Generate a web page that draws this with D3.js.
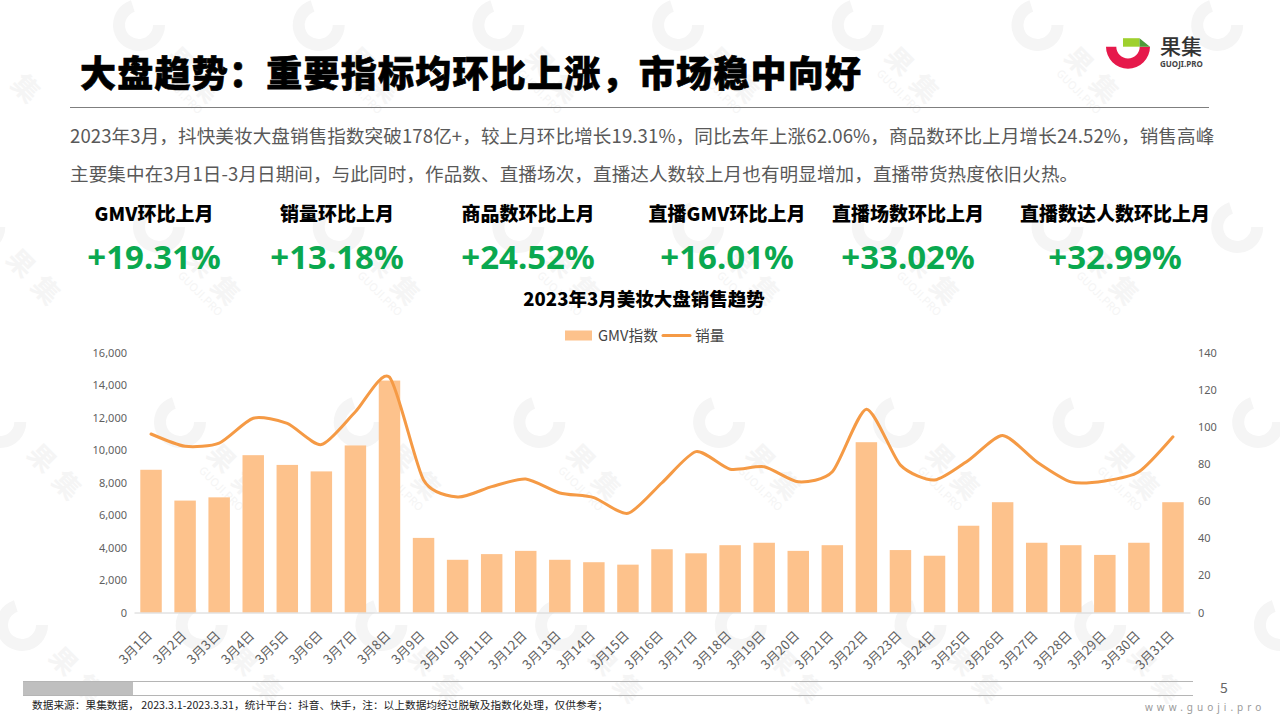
<!DOCTYPE html>
<html><head><meta charset="utf-8">
<script src="https://cdn.jsdelivr.net/npm/d3@7"></script>
<style>html,body{margin:0;padding:0;background:#fff;overflow:hidden}svg{display:block}text{font-family:"Noto Sans CJK SC","Noto Sans",sans-serif}</style>
</head><body><svg id="c" width="1280" height="720"></svg>
<script>
const days = d3.range(1,32).map(d=>`3月${d}日`);
const gmv = [8800,6900,7100,9700,9100,8700,10300,14300,4600,3250,3600,3800,3250,3100,2950,3900,3650,4150,4300,3800,4150,10500,3850,3500,5350,6800,4300,4150,3550,4300,6800];
const sales = [96.3,89.7,91.4,104.8,102,90.6,108.3,127,71.5,62.3,67.9,72,64.5,62,53.5,70,86.8,77.3,78.6,70.5,75.9,109.7,79.5,71.5,82.2,95.5,81.3,70.5,71,75.9,94.8];
const leftTicks = [0,2000,4000,6000,8000,10000,12000,14000,16000];
const rightTicks = [0,20,40,60,80,100,120,140];
const metricLabels = ["GMV环比上月","销量环比上月","商品数环比上月","直播GMV环比上月","直播场数环比上月","直播数达人数环比上月"];
const metricValues = ["+19.31%","+13.18%","+24.52%","+16.01%","+33.02%","+32.99%"];
const metricCenters = [154,337,528,727,908,1115];
const titleText = "大盘趋势：重要指标均环比上涨，市场稳中向好";
const bodyLines = ["2023年3月，抖快美妆大盘销售指数突破178亿+，较上月环比增长19.31%，同比去年上涨62.06%，商品数环比上月增长24.52%，销售高峰","主要集中在3月1日-3月日期间，与此同时，作品数、直播场次，直播达人数较上月也有明显增加，直播带货热度依旧火热。"];
const chartTitle = "2023年3月美妆大盘销售趋势";
const sourceText = "数据来源：果集数据， 2023.3.1-2023.3.31，统计平台：抖音、快手，注：以上数据均经过脱敏及指数化处理，仅供参考；";
const barColor = "#fdc28c", lineColor = "#f59a45", tickColor = "#5f5f5f";

const svg = d3.select("#c");

// watermark tiles
const wm = svg.append("g").attr("class","watermark");
const wmColor = "#f5f5f5";
const rows = [[-20.7,25],[-0.7,227],[20.3,422],[42,625]];
const inside = (x,y)=>x>18&&x<1245&&y>18&&y<702;
rows.forEach(([x0,y])=>{
  d3.range(0,9).forEach(i=>{
    const gx = x0 + i*179.7 - 20;
    const t = wm.append("g").attr("transform",`translate(${gx},${y})`);
    t.append("path").attr("d",d3.arc().innerRadius(14).outerRadius(26).startAngle(Math.PI*0.5).endAngle(Math.PI*1.9)())
      .attr("fill",wmColor);
    [["果",43,35],["集",68,62]].forEach(([s,dx,dy])=>{ if(!inside(gx+dx,y+dy)) return;
      t.append("text").text(s)
      .attr("transform",`translate(${dx},${dy}) rotate(45)`).attr("text-anchor","middle").attr("dominant-baseline","central")
      .attr("font-size",27).attr("font-weight",700).attr("fill",wmColor);});
    if(inside(gx+12,y+36)&&inside(gx+72,y+96))
    t.append("text").text("GUOJI.PRO").attr("transform",`translate(42,66) rotate(45)`).attr("text-anchor","middle")
      .attr("dominant-baseline","central").attr("font-size",11).attr("fill",wmColor);
  });
});

// title
svg.append("text").attr("x",80).attr("y",87).text(titleText)
  .attr("font-size",36).attr("font-weight",900).attr("letter-spacing",1.25).attr("fill","#000")
  .attr("stroke","#000").attr("stroke-width",0.7);
svg.append("line").attr("x1",70).attr("x2",1209).attr("y1",107.5).attr("y2",107.5).attr("stroke","#7f7f7f");

// logo
const logo = svg.append("g").attr("transform","translate(1128,46.7)");
logo.append("path").attr("d",d3.arc().innerRadius(11.7).outerRadius(22).startAngle(Math.PI/2).endAngle(Math.PI*1.5)()).attr("fill","#e6194b");
logo.append("polygon").attr("points","-5,-8.5 11.5,-8.5 11.5,0 -5,0").attr("fill","#9fd02e");
logo.append("polygon").attr("points","11.5,-8.5 22,0 11.5,0").attr("fill","#4e9b3a");
svg.append("text").attr("x",1160).attr("y",54).text("果集").attr("font-size",21).attr("font-weight",500).attr("fill","#333");
svg.append("text").attr("x",1160).attr("y",67).text("GUOJI.PRO").attr("font-size",8).attr("font-weight",700).attr("fill","#444").style("font-family","Noto Sans");

// body
svg.selectAll("text.body").data(bodyLines).join("text").attr("class","body")
  .attr("x",70).attr("y",(d,i)=>143+i*38).text(d=>d)
  .attr("font-size",18.57).attr("letter-spacing",0.1).attr("fill","#595959");

// KPIs
svg.selectAll("text.ml").data(metricLabels).join("text").attr("class","ml")
  .attr("x",(d,i)=>metricCenters[i]).attr("y",220.5).attr("text-anchor","middle").text(d=>d)
  .attr("font-size",19).attr("font-weight",900).attr("fill","#000");
svg.selectAll("text.mv").data(metricValues).join("text").attr("class","mv")
  .attr("x",(d,i)=>metricCenters[i]).attr("y",269).attr("text-anchor","middle").text(d=>d)
  .attr("font-size",33).attr("font-weight",700).attr("fill","#0aa84f").style("font-family","Noto Sans");

svg.append("text").attr("x",644).attr("y",306).attr("text-anchor","middle").text(chartTitle)
  .attr("font-size",18.5).attr("font-weight",900).attr("fill","#000");

// chart
const x = d3.scaleBand().domain(days).range([134,1190]).paddingInner(0.37).paddingOuter(0.185);
const yL = d3.scaleLinear().domain([0,16000]).range([612.5,353]);
const yR = d3.scaleLinear().domain([0,140]).range([612.5,353]);

svg.append("g").selectAll("rect").data(gmv).join("rect")
  .attr("x",(d,i)=>x(days[i])).attr("width",x.bandwidth())
  .attr("y",d=>yL(d)).attr("height",d=>yL(0)-yL(d)).attr("fill",barColor);

const line = d3.line().x((d,i)=>x(days[i])+x.bandwidth()/2).y(d=>yR(d)).curve(d3.curveCardinal.tension(0.3));
svg.append("path").datum(sales).attr("d",line).attr("fill","none").attr("stroke",lineColor).attr("stroke-width",3).attr("stroke-linecap","round");

const axL = svg.append("g").attr("transform","translate(127,0)").call(d3.axisLeft(yL).tickValues(leftTicks).tickSize(0).tickPadding(0).tickFormat(d3.format(",")));
axL.select(".domain").remove();
const axR = svg.append("g").attr("transform","translate(1198,0)").call(d3.axisRight(yR).tickValues(rightTicks).tickSize(0).tickPadding(0));
axR.select(".domain").remove();
[axL,axR].forEach(a=>a.selectAll("text").attr("font-size",11).attr("fill",tickColor).style("font-family","Noto Sans"));

const axB = svg.append("g").attr("transform","translate(0,612.5)").call(d3.axisBottom(x).tickSize(0));
axB.select(".domain").attr("stroke","#d4d4d4");
axB.selectAll("text").attr("font-size",13).attr("fill",tickColor).attr("text-anchor","end")
  .attr("dy",0).attr("y",0).attr("transform","translate(2,24) rotate(-45)");

// legend
svg.append("rect").attr("x",565).attr("y",330.5).attr("width",27).attr("height",10).attr("fill",barColor);
svg.append("text").attr("x",598).attr("y",340.5).text("GMV指数").attr("font-size",14.7).attr("fill","#444");
svg.append("line").attr("x1",663).attr("x2",690).attr("y1",335.5).attr("y2",335.5).attr("stroke",lineColor).attr("stroke-width",3).attr("stroke-linecap","round");
svg.append("text").attr("x",695).attr("y",340.5).text("销量").attr("font-size",14.7).attr("fill","#444");

// footer
svg.append("rect").attr("x",23).attr("y",681).attr("width",110).attr("height",14).attr("fill","#bfbfbf");
[681,695].forEach(y=>svg.append("line").attr("x1",23).attr("x2",1193).attr("y1",y+0.5).attr("y2",y+0.5).attr("stroke","#b5b5b5"));
svg.append("text").attr("x",1224).attr("y",693).attr("text-anchor","middle").text("5").attr("font-size",14).attr("fill","#666");
svg.append("text").attr("x",32).attr("y",709).text(sourceText).attr("font-size",10.7).attr("fill","#222");
svg.append("text").attr("x",1145).attr("y",711).text("www.guoji.pro").attr("font-size",10).attr("letter-spacing",4).attr("fill","#9a9a9a").style("font-family","Noto Sans");
</script></body></html>
